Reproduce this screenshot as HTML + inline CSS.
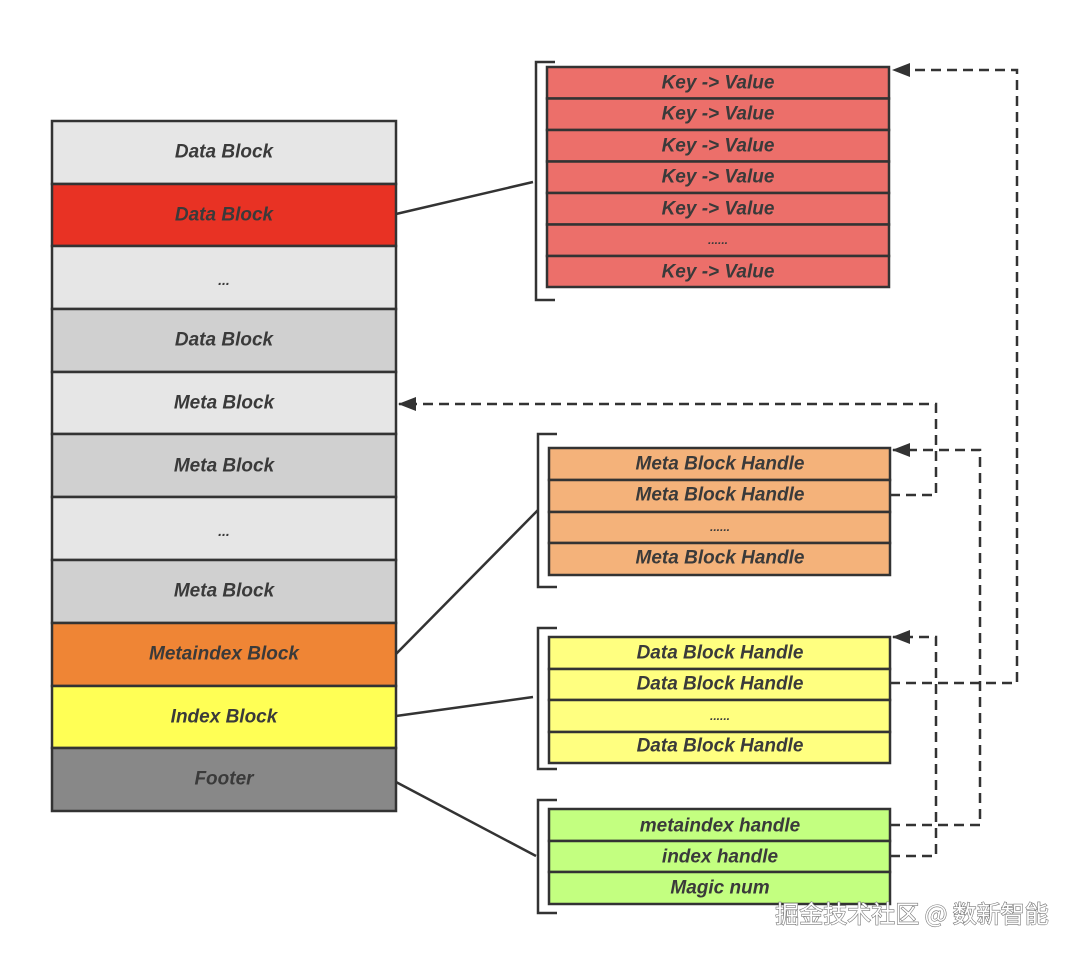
<!DOCTYPE html>
<html><head><meta charset="utf-8"><style>
html,body{margin:0;padding:0;background:#fff;}
svg text{font-family:"Liberation Sans","DejaVu Sans",sans-serif;font-weight:bold;font-style:italic;font-size:19px;fill:#3a3a3a;text-anchor:middle;dominant-baseline:central;}
</style></head><body>
<svg width="1080" height="952" viewBox="0 0 1080 952" xmlns="http://www.w3.org/2000/svg">
<defs><marker id="ar" markerWidth="18" markerHeight="14" refX="17" refY="7" orient="auto" markerUnits="userSpaceOnUse"><path d="M0,0 L18,7 L0,14 z" fill="#333"/></marker></defs>
<g stroke="#333" stroke-width="2.5">
<rect x="52" y="121" width="344" height="63" fill="#e6e6e6"/>
<rect x="52" y="184" width="344" height="62" fill="#e83224"/>
<rect x="52" y="246" width="344" height="63" fill="#e6e6e6"/>
<rect x="52" y="309" width="344" height="63" fill="#d0d0d0"/>
<rect x="52" y="372" width="344" height="62" fill="#e6e6e6"/>
<rect x="52" y="434" width="344" height="63" fill="#d0d0d0"/>
<rect x="52" y="497" width="344" height="63" fill="#e6e6e6"/>
<rect x="52" y="560" width="344" height="63" fill="#d0d0d0"/>
<rect x="52" y="623" width="344" height="63" fill="#ef8535"/>
<rect x="52" y="686" width="344" height="62" fill="#ffff55"/>
<rect x="52" y="748" width="344" height="63" fill="#888"/>
</g>
<text x="224" y="152">Data Block</text>
<text x="224" y="215">Data Block</text>
<text x="224" y="280" style="font-size:14px">...</text>
<text x="224" y="340">Data Block</text>
<text x="224" y="403">Meta Block</text>
<text x="224" y="466">Meta Block</text>
<text x="224" y="531" style="font-size:14px">...</text>
<text x="224" y="591">Meta Block</text>
<text x="224" y="654">Metaindex Block</text>
<text x="224" y="717">Index Block</text>
<text x="224" y="779">Footer</text>

<g stroke="#333" stroke-width="2.5" fill="#ec6f6a">
<rect x="547" y="67" width="342" height="31.5"/><rect x="547" y="98.5" width="342" height="31.5"/><rect x="547" y="130" width="342" height="31.5"/><rect x="547" y="161.5" width="342" height="31.5"/><rect x="547" y="193" width="342" height="31.5"/><rect x="547" y="224.5" width="342" height="31.5"/><rect x="547" y="256" width="342" height="31"/>
</g>
<text x="718" y="83">Key -&gt; Value</text><text x="718" y="114">Key -&gt; Value</text><text x="718" y="146">Key -&gt; Value</text><text x="718" y="177">Key -&gt; Value</text><text x="718" y="209">Key -&gt; Value</text><text x="718" y="240" style="font-size:12px">......</text><text x="718" y="272">Key -&gt; Value</text>

<g stroke="#333" stroke-width="2.5" fill="#f4b27a">
<rect x="549" y="448" width="341" height="32"/><rect x="549" y="480" width="341" height="32"/><rect x="549" y="512" width="341" height="31"/><rect x="549" y="543" width="341" height="32"/>
</g>
<text x="720" y="464">Meta Block Handle</text><text x="720" y="495">Meta Block  Handle</text><text x="720" y="527" style="font-size:12px">......</text><text x="720" y="558">Meta Block  Handle</text>

<g stroke="#333" stroke-width="2.5" fill="#ffff80">
<rect x="549" y="637" width="341" height="32"/><rect x="549" y="669" width="341" height="31"/><rect x="549" y="700" width="341" height="32"/><rect x="549" y="732" width="341" height="31"/>
</g>
<text x="720" y="653">Data Block Handle</text><text x="720" y="684">Data Block Handle</text><text x="720" y="716" style="font-size:12px">......</text><text x="720" y="746">Data Block Handle</text>

<g stroke="#333" stroke-width="2.5" fill="#c3ff80">
<rect x="549" y="809" width="341" height="32"/><rect x="549" y="841" width="341" height="31"/><rect x="549" y="872" width="341" height="32"/>
</g>
<text x="720" y="826">metaindex handle</text><text x="720" y="857">index handle</text><text x="720" y="888">Magic num</text>

<g stroke="#333" stroke-width="2.5" fill="none">
<path d="M555,62 H536 V300 H555"/>
<path d="M557,434 H538 V587 H557"/>
<path d="M557,628 H538 V769 H557"/>
<path d="M557,800 H538 V913 H557"/>
<line x1="396" y1="214" x2="533" y2="182"/>
<line x1="396" y1="654" x2="538" y2="510"/>
<line x1="396" y1="716" x2="533" y2="697"/>
<line x1="396" y1="782" x2="536" y2="856"/>
</g>
<g stroke="#333" stroke-width="2.5" fill="none" stroke-dasharray="10,6">
<path d="M890,683 H1017 V70 H893" marker-end="url(#ar)"/>
<path d="M890,495 H936 V404 H399" marker-end="url(#ar)"/>
<path d="M890,825 H980 V450 H893" marker-end="url(#ar)"/>
<path d="M890,856 H936 V637 H893" marker-end="url(#ar)"/>
</g>
<text x="912" y="912" style="font-family:'Noto Sans CJK SC',sans-serif;font-style:normal;font-weight:normal;font-size:24px;fill:#fff;stroke:#777;stroke-width:1.2;paint-order:stroke">掘金技术社区 @ 数新智能</text>
</svg>
</body></html>
